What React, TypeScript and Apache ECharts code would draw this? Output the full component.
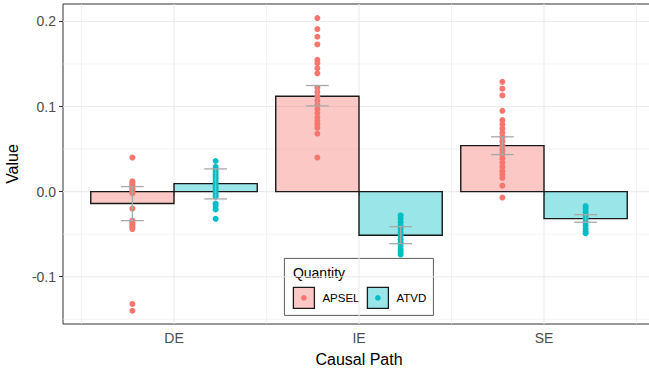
import React, { useEffect, useRef } from "react";
import * as echarts from "echarts";

// ---- data ----
const categories = ["DE", "IE", "SE"];
const quantities = ["APSEL", "ATVD"];

// bar heights (estimates)
const barAPSEL = [-0.014, 0.112, 0.054];
const barATVD = [0.0094, -0.0513, -0.0318];

// error bar bounds [low, high]
const errAPSEL = [
  [-0.0341, 0.0059],
  [0.1008, 0.1247],
  [0.0435, 0.0644],
];
const errATVD = [
  [-0.0086, 0.0267],
  [-0.0612, -0.0412],
  [-0.036, -0.0271],
];

// individual points per category
const ptsAPSEL = [
  [0.04, 0.012, 0.01, 0.008, 0.006, 0.004, 0.002, 0.0, -0.002, -0.02, -0.034, -0.036, -0.038, -0.04, -0.042, -0.044, -0.132, -0.14],
  [0.204, 0.191, 0.182, 0.173, 0.155, 0.151, 0.145, 0.139, 0.122, 0.117, 0.112, 0.107, 0.102, 0.097, 0.092, 0.087, 0.083, 0.079, 0.075, 0.068, 0.04],
  [0.129, 0.121, 0.113, 0.095, 0.084, 0.079, 0.074, 0.069, 0.064, 0.059, 0.054, 0.049, 0.044, 0.039, 0.034, 0.029, 0.024, 0.02, 0.016, 0.007, -0.007],
];
const ptsATVD = [
  [0.036, 0.029, 0.026, 0.023, 0.02, 0.017, 0.014, 0.011, 0.008, 0.005, 0.002, -0.001, -0.004, -0.006, -0.014, -0.017, -0.021, -0.032],
  [-0.028, -0.032, -0.036, -0.04, -0.044, -0.048, -0.052, -0.056, -0.06, -0.064, -0.068, -0.071, -0.074],
  [-0.017, -0.02, -0.024, -0.028, -0.032, -0.036, -0.04, -0.044, -0.047, -0.049],
];

const yTicks = [-0.1, 0.0, 0.1, 0.2];
const yMinor = [-0.15, -0.05, 0.05, 0.15];
const yMin = -0.1556;
const yMax = 0.2205;

const COL_A = "#F8766D";
const COL_B = "#00BFC4";
const FILL_A = "rgba(248,118,109,0.4)";
const FILL_B = "rgba(0,191,196,0.4)";
const FONT = "Liberation Sans, Arial, Helvetica, sans-serif";

const DODGE = 0.225;
const HALF = 0.225;
const CAP = 0.0615;

export default function App() {
  const ref = useRef<HTMLDivElement>(null);

  useEffect(() => {
    if (!ref.current) return;
    const chart = echarts.init(ref.current, null, { renderer: "svg" });

    const xMajor = categories.map((_, i) => i + 1);
    const xMinor = [0.5, 1.5, 2.5, 3.5];

    const gridData: any[] = [];
    yMinor.forEach((v) => gridData.push({ value: [0, v, 0] }));
    xMinor.forEach((v) => gridData.push({ value: [1, v, 0] }));
    yTicks.forEach((v) => gridData.push({ value: [0, v, 1] }));
    xMajor.forEach((v) => gridData.push({ value: [1, v, 1] }));

    const barData = (vals: number[], off: number) =>
      vals.map((v, i) => ({ value: [i + 1 + off, v] }));
    const errData = (vals: number[][], off: number) =>
      vals.map((e, i) => ({ value: [i + 1 + off, e[0], e[1]] }));
    const ptData = (vals: number[][], off: number) => {
      const out: number[][] = [];
      vals.forEach((arr, i) => arr.forEach((v) => out.push([i + 1 + off, v])));
      return out;
    };

    const barRender = (fill: string) => (params: any, api: any) => {
      const x = api.value(0);
      const v = api.value(1);
      const p1 = api.coord([x - HALF, v]);
      const p2 = api.coord([x + HALF, 0]);
      return {
        type: "rect",
        shape: {
          x: Math.min(p1[0], p2[0]),
          y: Math.min(p1[1], p2[1]),
          width: Math.abs(p2[0] - p1[0]),
          height: Math.abs(p2[1] - p1[1]),
        },
        style: { fill, stroke: "#1a1a1a", lineWidth: 1.4 },
      };
    };

    const errRender = (params: any, api: any) => {
      const x = api.value(0);
      const lo = api.coord([x, api.value(1)]);
      const hi = api.coord([x, api.value(2)]);
      const l1 = api.coord([x - CAP, api.value(1)]);
      const r1 = api.coord([x + CAP, api.value(1)]);
      const l2 = api.coord([x - CAP, api.value(2)]);
      const r2 = api.coord([x + CAP, api.value(2)]);
      const st = { stroke: "#A8A8A8", lineWidth: 1.3 };
      return {
        type: "group",
        children: [
          { type: "line", shape: { x1: lo[0], y1: lo[1], x2: hi[0], y2: hi[1] }, style: st },
          { type: "line", shape: { x1: l1[0], y1: l1[1], x2: r1[0], y2: r1[1] }, style: st },
          { type: "line", shape: { x1: l2[0], y1: l2[1], x2: r2[0], y2: r2[1] }, style: st },
        ],
      };
    };

    const gridRender = (params: any, api: any) => {
      const orient = api.value(0);
      const v = api.value(1);
      const major = api.value(2);
      const cs = params.coordSys;
      const st = { stroke: "#EBEBEB", lineWidth: major ? 1.1 : 0.6 };
      if (orient === 0) {
        const p = api.coord([1, v]);
        return { type: "line", shape: { x1: cs.x, y1: p[1], x2: cs.x + cs.width, y2: p[1] }, style: st };
      }
      const p = api.coord([v, 0]);
      return { type: "line", shape: { x1: p[0], y1: cs.y, x2: p[0], y2: cs.y + cs.height }, style: st };
    };

    const legendG = {
      type: "group",
      left: 284,
      top: 258,
      children: [
        { type: "rect", shape: { x: 0, y: 0, width: 149, height: 57 }, style: { fill: "#fff", stroke: "#333", lineWidth: 0.8 } },
        { type: "text", x: 8.5, y: 14.5, style: { text: "Quantity", font: `14px ${FONT}`, fill: "#000", verticalAlign: "middle" } },
        { type: "rect", shape: { x: 9, y: 29, width: 21, height: 21 }, style: { fill: FILL_A, stroke: "#1a1a1a", lineWidth: 1.3 } },
        { type: "circle", shape: { cx: 19.5, cy: 39.5, r: 2.8 }, style: { fill: COL_A } },
        { type: "text", x: 38, y: 39.5, style: { text: "APSEL", font: `11.5px ${FONT}`, fill: "#000", verticalAlign: "middle" } },
        { type: "rect", shape: { x: 83, y: 29, width: 21, height: 21 }, style: { fill: FILL_B, stroke: "#1a1a1a", lineWidth: 1.3 } },
        { type: "circle", shape: { cx: 93.5, cy: 39.5, r: 2.8 }, style: { fill: COL_B } },
        { type: "text", x: 112, y: 39.5, style: { text: "ATVD", font: `11.5px ${FONT}`, fill: "#000", verticalAlign: "middle" } },
      ],
    };

    chart.setOption({
      animation: false,
      backgroundColor: "#fff",
      textStyle: { fontFamily: FONT },
      grid: {
        left: 63,
        top: 4,
        width: 592,
        height: 320,
        show: true,
        borderColor: "#333",
        borderWidth: 1,
        backgroundColor: "#fff",
        containLabel: false,
        outerBoundsMode: "none",
        z: 0,
      },
      xAxis: {
        type: "value",
        min: 0.4,
        max: 3.6,
        name: "Causal Path",
        nameLocation: "middle",
        nameGap: 27,
        nameTextStyle: { fontSize: 16, color: "#000", fontFamily: FONT },
        axisLine: { show: false },
        splitLine: { show: false },
        axisTick: { show: true, length: 4, lineStyle: { color: "#333" }, customValues: xMajor },
        axisLabel: {
          customValues: xMajor,
          formatter: (v: number) => categories[Math.round(v) - 1] ?? "",
          fontSize: 14,
          color: "#4D4D4D",
          margin: 7,
          fontFamily: FONT,
        },
      },
      yAxis: {
        type: "value",
        min: yMin,
        max: yMax,
        name: "Value",
        nameLocation: "middle",
        nameGap: 40,
        nameRotate: 90,
        nameTextStyle: { fontSize: 16, color: "#000", fontFamily: FONT },
        axisLine: { show: false },
        splitLine: { show: false },
        axisTick: { show: true, length: 4, lineStyle: { color: "#333" }, customValues: yTicks },
        axisLabel: {
          customValues: yTicks,
          formatter: (v: number) => v.toFixed(1),
          fontSize: 14,
          color: "#4D4D4D",
          margin: 7,
          fontFamily: FONT,
        },
      },
      series: [
        { type: "custom", name: "grid", silent: true, z: 1, renderItem: gridRender, data: gridData, clip: true },
        { type: "custom", name: quantities[0], z: 2, renderItem: barRender(FILL_A), data: barData(barAPSEL, -DODGE) },
        { type: "custom", name: quantities[1], z: 2, renderItem: barRender(FILL_B), data: barData(barATVD, DODGE) },
        { type: "scatter", name: quantities[0] + " pts", z: 3, symbolSize: 6, itemStyle: { color: COL_A, opacity: 1 }, data: ptData(ptsAPSEL, -DODGE) },
        { type: "scatter", name: quantities[1] + " pts", z: 3, symbolSize: 6, itemStyle: { color: COL_B, opacity: 1 }, data: ptData(ptsATVD, DODGE) },
        { type: "custom", name: "err A", z: 4, renderItem: errRender, data: errData(errAPSEL, -DODGE) },
        { type: "custom", name: "err B", z: 4, renderItem: errRender, data: errData(errATVD, DODGE) },
      ],
      graphic: [legendG],
    });

    return () => chart.dispose();
  }, []);

  return (
    <div
      ref={ref}
      style={{ position: "absolute", left: 0, top: 0, width: 649, height: 374 }}
    />
  );
}
